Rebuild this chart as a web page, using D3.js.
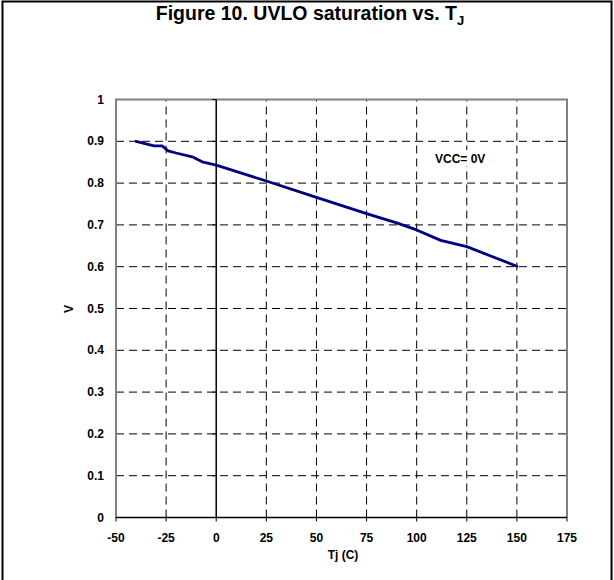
<!DOCTYPE html>
<html><head><meta charset="utf-8">
<script src="https://cdn.jsdelivr.net/npm/d3@7"></script>
<style>body{margin:0;background:#fff}svg{display:block}text{font-family:Arial,"Liberation Sans",sans-serif}</style>
</head><body>
<script>
const temps = [-40, -35, -31, -27, -24, -20, -12, -7, 0, 25, 50, 75, 90, 100, 112, 125, 150];
const volts = [0.900, 0.894, 0.889, 0.889, 0.877, 0.872, 0.863, 0.851, 0.843, 0.805, 0.766, 0.727, 0.705, 0.688, 0.663, 0.648, 0.601];
const xTicks = [-50, -25, 0, 25, 50, 75, 100, 125, 150, 175];
const yTicks = [0, 0.1, 0.2, 0.3, 0.4, 0.5, 0.6, 0.7, 0.8, 0.9, 1];
const yTickLabels = ["0", "0.1", "0.2", "0.3", "0.4", "0.5", "0.6", "0.7", "0.8", "0.9", "1"];

const W = 614, H = 580;
const svg = d3.select("body").append("svg").attr("width", W).attr("height", H);

// outer frame
svg.append("path").attr("d", `M2.5,${H} V1.5 H611.5 V${H}`).attr("fill", "none").attr("stroke", "#000").attr("stroke-width", 2);

const x = d3.scaleLinear().domain([-50, 175]).range([116, 567]);
const y = d3.scaleLinear().domain([0, 1]).range([517.5, 99.5]);

// title
const t = svg.append("text").attr("x", 310).attr("y", 20).attr("text-anchor", "middle")
  .attr("font-size", 19.5).attr("font-weight", "bold");
t.append("tspan").text("Figure 10. UVLO saturation vs. T");
t.append("tspan").attr("font-size", 13).attr("dy", 5).text("J");

const g = svg.append("g");
// grid horizontal
g.selectAll(".hg").data(yTicks.filter(v => v > 0 && v < 1)).join("line")
  .attr("x1", x(-50)).attr("x2", x(175)).attr("y1", d => y(d)).attr("y2", d => y(d))
  .attr("stroke", "#000").attr("stroke-width", 1).attr("stroke-dasharray", "8,5");
// grid vertical
g.selectAll(".vg").data(xTicks.filter(v => v > -50 && v < 175 && v !== 0)).join("line")
  .attr("y1", y(0)).attr("y2", y(1)).attr("x1", d => x(d)).attr("x2", d => x(d))
  .attr("stroke", "#000").attr("stroke-width", 1).attr("stroke-dasharray", "8,5");

// plot frame
g.append("path").attr("d", `M${x(-50)},${y(0)} V${y(1)} H${x(175)} V${y(0)}`)
  .attr("fill", "none").attr("stroke", "#808080").attr("stroke-width", 2);
g.append("line").attr("x1", x(-50)).attr("x2", x(175)).attr("y1", y(0)).attr("y2", y(0))
  .attr("stroke", "#000").attr("stroke-width", 1.5);
// zero axis
g.append("line").attr("x1", x(0)).attr("x2", x(0)).attr("y1", y(0)).attr("y2", y(1))
  .attr("stroke", "#000").attr("stroke-width", 1.5);
// small ticks on zero axis
g.selectAll(".zt").data(yTicks).join("line")
  .attr("x1", x(0) - 4).attr("x2", x(0)).attr("y1", d => y(d)).attr("y2", d => y(d))
  .attr("stroke", "#000").attr("stroke-width", 1);
// x ticks
g.selectAll(".xt").data(xTicks).join("line")
  .attr("x1", d => x(d)).attr("x2", d => x(d)).attr("y1", y(0)).attr("y2", y(0) + 4)
  .attr("stroke", "#000").attr("stroke-width", 1);

// tick labels
svg.selectAll(".xl").data(xTicks).join("text")
  .attr("x", d => x(d)).attr("y", 542).attr("text-anchor", "middle")
  .attr("font-size", 12).attr("font-weight", "bold").text(d => d);
svg.selectAll(".yl").data(yTicks).join("text")
  .attr("x", 104).attr("y", d => y(d) + 4).attr("text-anchor", "end")
  .attr("font-size", 12).attr("font-weight", "bold").text((d, i) => yTickLabels[i]);

// axis titles
svg.append("text").attr("x", 343).attr("y", 559).attr("text-anchor", "middle")
  .attr("font-size", 12).attr("font-weight", "bold").text("Tj (C)");
svg.append("text").attr("transform", "translate(73,309) rotate(-90)").attr("text-anchor", "middle")
  .attr("font-size", 12).attr("font-weight", "bold").text("V");

// annotation with white background
svg.append("rect").attr("x", 433).attr("y", 150).attr("width", 57).attr("height", 16).attr("fill", "#fff");
svg.append("text").attr("x", 435).attr("y", 163)
  .attr("font-size", 12).attr("font-weight", "bold").text("VCC= 0V");

// data line
const data = temps.map((tt, i) => [tt, volts[i]]);
svg.append("path").datum(data)
  .attr("d", d3.line().x(d => x(d[0])).y(d => y(d[1])))
  .attr("fill", "none").attr("stroke", "#000080").attr("stroke-width", 2.8)
  .attr("stroke-linejoin", "round").attr("stroke-linecap", "round");
</script>
</body></html>
